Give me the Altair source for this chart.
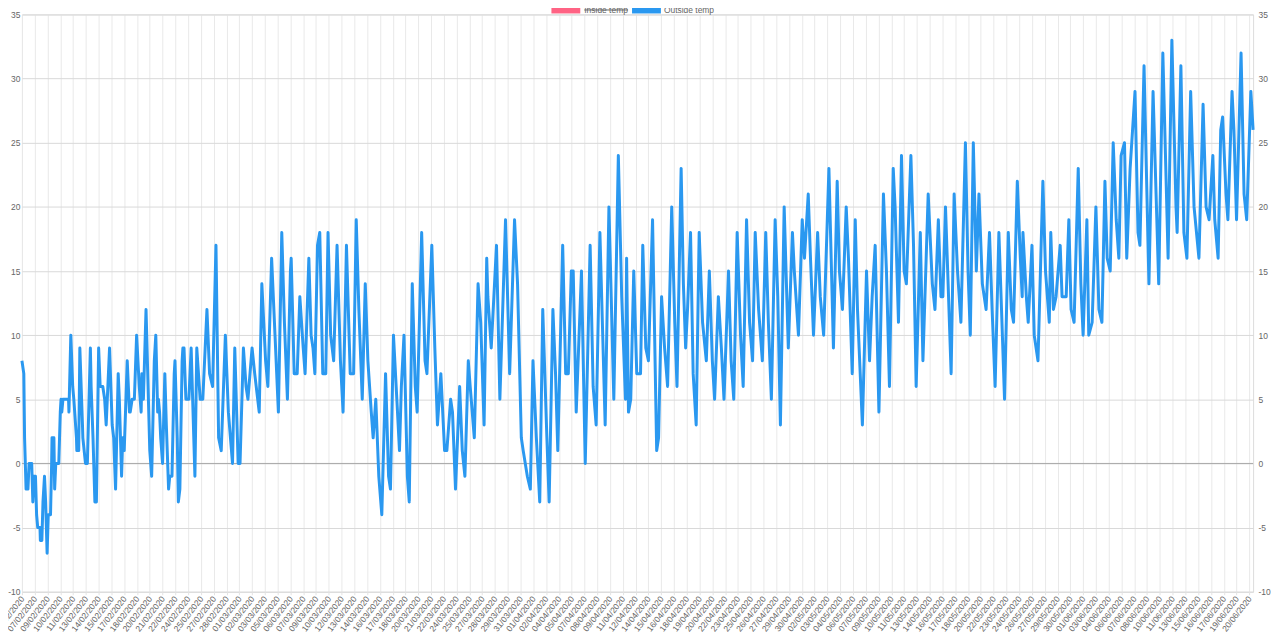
import altair as alt
import pandas as pd

# ---------------- data ----------------
date_labels = [
    "06/02/2020", "07/02/2020", "09/02/2020", "10/02/2020", "11/02/2020", "13/02/2020", "14/02/2020",
    "15/02/2020", "17/02/2020", "18/02/2020", "20/02/2020", "21/02/2020", "22/02/2020", "24/02/2020",
    "25/02/2020", "27/02/2020", "28/02/2020", "01/03/2020", "02/03/2020", "03/03/2020", "05/03/2020",
    "06/03/2020", "07/03/2020", "09/03/2020", "10/03/2020", "12/03/2020", "13/03/2020", "14/03/2020",
    "16/03/2020", "17/03/2020", "18/03/2020", "20/03/2020", "21/03/2020", "22/03/2020", "24/03/2020",
    "25/03/2020", "27/03/2020", "28/03/2020", "29/03/2020", "31/03/2020", "01/04/2020", "02/04/2020",
    "04/04/2020", "05/04/2020", "07/04/2020", "08/04/2020", "09/04/2020", "11/04/2020", "12/04/2020",
    "14/04/2020", "15/04/2020", "16/04/2020", "18/04/2020", "19/04/2020", "20/04/2020", "22/04/2020",
    "23/04/2020", "25/04/2020", "26/04/2020", "27/04/2020", "29/04/2020", "30/04/2020", "02/05/2020",
    "03/05/2020", "04/05/2020", "06/05/2020", "07/05/2020", "09/05/2020", "10/05/2020", "11/05/2020",
    "13/05/2020", "14/05/2020", "16/05/2020", "17/05/2020", "18/05/2020", "20/05/2020", "22/05/2020",
    "23/05/2020", "24/05/2020", "26/05/2020", "27/05/2020", "29/05/2020", "30/05/2020", "01/06/2020",
    "03/06/2020", "04/06/2020", "06/06/2020", "07/06/2020", "08/06/2020", "10/06/2020", "11/06/2020",
    "13/06/2020", "15/06/2020", "16/06/2020", "17/06/2020", "19/06/2020", "20/06/2020",
]

# reading index (one reading per hour) and outside temperature, Feb - early Mar
seg1_hours = [
    0, 5, 7, 9, 11, 16, 19, 26, 29, 32,
    36, 39, 42, 48, 49, 53, 56, 60, 63, 67,
    70, 76, 79, 80, 85, 87, 90, 98, 102, 104,
    106, 109, 124, 125, 130, 135, 138, 145, 146, 151,
    154, 161, 162, 169, 174, 182, 184, 189, 194, 198,
    204, 208, 215, 220, 224, 233, 240, 244, 249, 256,
    259, 265, 268, 272, 280, 286, 288, 293, 299, 305,
    312, 317, 319, 323, 330, 340, 345, 352, 356, 361,
    363, 366, 369, 374, 380, 384, 390, 393, 399, 405,
    407, 413, 416, 420, 426, 428, 431, 436, 444, 450,
]
seg1_temps = [
    8, 7, 2, 0, -2, -2, 0, 0, -3, -1,
    -1, -4, -5, -5, -6, -6, -3, -1, -3, -7,
    -4, -4, 0, 2, 2, -2, 0, 0, 4, 5,
    4, 5, 5, 4, 10, 6, 5, 2, 1, 1,
    9, 3, 2, 0, 0, 9, 6, 2, -3, -3,
    9, 6, 6, 5, 3, 9, 3, 2, -2, 7,
    5, -1, 2, 1, 8, 4, 4, 5, 5, 10,
    6, 4, 7, 5, 12, 1, -1, 8, 10, 4,
    5, 4, 2, 0, 7, 3, -2, -1, -1, 7,
    8, 2, -3, -2, 8, 9, 9, 5, 5, 9,
]

# early Mar - mid Apr
seg2_hours = [
    460, 465, 474, 481, 492, 499, 507, 516, 523, 530,
    541, 549, 560, 566, 575, 580, 589, 596, 601, 612,
    619, 631, 638, 643, 648, 654, 664, 673, 682, 691,
    698, 706, 714, 716, 724, 732, 739, 748, 753, 763,
    769, 774, 779, 786, 792, 800, 808, 814, 821, 829,
    838, 847, 854, 863, 873, 882, 889, 896, 905, 913,
    920, 929, 934, 941, 949, 957, 967, 975, 980, 988,
    997, 1004, 1009, 1016, 1025, 1030, 1038, 1046, 1051, 1063,
    1072, 1077, 1090, 1098, 1105, 1114, 1124, 1130, 1140, 1145,
    1153, 1164, 1171, 1178, 1187, 1192, 1203, 1213, 1220, 1229,
    1236, 1239, 1248, 1262, 1271, 1286, 1297, 1310, 1318, 1328,
    1333, 1344, 1352, 1359, 1368, 1377, 1385, 1396, 1402, 1412,
    1419, 1425, 1438, 1446, 1453, 1461, 1466, 1474, 1488, 1498,
    1511, 1519, 1527, 1537, 1551, 1561, 1574, 1586, 1595, 1605,
]
seg2_temps = [
    -1, 9, 5, 5, 12, 7, 6, 17, 2, 1,
    10, 4, 0, 9, 0, 0, 9, 6, 5, 9,
    7, 4, 14, 11, 8, 6, 16, 10, 4, 18,
    11, 5, 15, 16, 7, 7, 13, 9, 7, 16,
    10, 9, 7, 17, 18, 7, 7, 18, 10, 8,
    17, 8, 4, 17, 7, 7, 19, 12, 5, 14,
    8, 4, 2, 5, -1, -4, 7, -1, -2, 10,
    5, 1, 6, 10, -1, -3, 14, 6, 4, 18,
    8, 7, 17, 9, 3, 7, 1, 1, 5, 4,
    -2, 6, 1, -1, 8, 6, 2, 14, 11, 3,
    16, 13, 9, 17, 5, 19, 7, 19, 14, 2,
    1, -1, -2, 8, 2, -3, 12, 2, -3, 12,
    7, 1, 17, 7, 7, 15, 15, 4, 15, 0,
    17, 6, 3, 18, 3, 20, 5, 24, 13, 5,
]

# mid Apr - end of Jun
seg3_hours = [
    1608, 1613, 1619, 1627, 1635, 1645, 1651, 1659, 1666, 1677,
    1688, 1693, 1701, 1709, 1717, 1728, 1736, 1742, 1753, 1759,
    1765, 1770, 1778, 1785, 1793, 1801, 1810, 1820, 1828, 1836,
    1842, 1852, 1860, 1867, 1879, 1886, 1893, 1902, 1911, 1918,
    1927, 1935, 1943, 1950, 1959, 1969, 1978, 1985, 1993, 2003,
    2010, 2017, 2027, 2033, 2038, 2049, 2054, 2065, 2075, 2081,
    2091, 2097, 2105, 2116, 2123, 2132, 2146, 2152, 2158, 2168,
    2174, 2182, 2192, 2198, 2208, 2216, 2222, 2235, 2246, 2254,
    2261, 2269, 2279, 2291, 2299, 2307, 2317, 2322, 2331, 2339,
    2346, 2352, 2364, 2371, 2378, 2389, 2396, 2410, 2421, 2428,
    2437, 2444, 2449, 2456, 2463, 2471, 2479, 2488, 2497, 2509,
    2516, 2522, 2530, 2538, 2545, 2554, 2564, 2573, 2580, 2588,
    2598, 2605, 2613, 2623, 2631, 2637, 2647, 2655, 2660, 2662,
    2671, 2676, 2686, 2692, 2702, 2715, 2722, 2732, 2736, 2743,
    2750, 2761, 2766, 2777, 2784, 2790, 2798, 2809, 2816, 2822,
    2832, 2837, 2846, 2856, 2864, 2872, 2880, 2886, 2894, 2902,
    2910, 2917, 2923, 2932, 2938, 2947, 2960, 2968, 2973, 2984,
    2997, 3008, 3016, 3023, 3034, 3048, 3058, 3069, 3072, 3082,
    3090, 3098, 3108, 3117, 3130, 3141, 3149, 3157, 3167, 3172,
    3181, 3188, 3193, 3202, 3207, 3218, 3223, 3230, 3242, 3250,
    3257, 3268, 3274,
]
seg3_temps = [
    16, 4, 5, 15, 7, 7, 17, 9, 8, 19,
    1, 2, 13, 9, 6, 20, 11, 6, 23, 14,
    9, 12, 18, 7, 3, 18, 11, 8, 15, 8,
    5, 13, 9, 5, 15, 8, 5, 18, 10, 6,
    19, 11, 8, 18, 12, 8, 18, 11, 5, 19,
    13, 3, 20, 14, 9, 18, 15, 10, 19, 16,
    21, 16, 10, 18, 13, 10, 23, 16, 9, 22,
    15, 12, 20, 16, 7, 19, 12, 3, 15, 8,
    13, 17, 4, 21, 15, 6, 23, 20, 11, 24,
    15, 14, 24, 17, 6, 18, 8, 21, 14, 12,
    19, 13, 13, 20, 14, 7, 21, 15, 11, 25,
    15, 10, 25, 15, 21, 14, 12, 18, 12, 6,
    18, 12, 5, 18, 12, 11, 22, 16, 13, 18,
    13, 11, 17, 10, 8, 22, 15, 11, 18, 12,
    13, 17, 13, 13, 19, 12, 11, 23, 14, 10,
    19, 10, 11, 20, 12, 11, 22, 16, 15, 25,
    19, 16, 24, 25, 16, 23, 29, 18, 17, 31,
    14, 29, 21, 14, 32, 16, 33, 20, 18, 31,
    18, 16, 29, 20, 16, 28, 20, 19, 24, 19,
    16, 26, 27, 21, 19, 29, 26, 19, 32, 21,
    19, 29, 26,
]

y_ticks = [-10, -5, 0, 5, 10, 15, 20, 25, 30, 35]
legend_labels = ["Inside temp", "Outside temp"]
legend_colors = ["#ff6384", "#2a98f0"]
readings_per_label = 34
x_max = 3274

hours = seg1_hours + seg2_hours + seg3_hours
temps = seg1_temps + seg2_temps + seg3_temps
assert len(hours) == len(temps)

df = pd.DataFrame({"reading": hours, "temp": temps})
legend_df = pd.DataFrame({"name": legend_labels, "color": legend_colors})
zero_df = pd.DataFrame({"v": [0]})

tick_values = [i * readings_per_label for i in range(len(date_labels))]
label_expr = "[" + ",".join("'%s'" % d for d in date_labels) + "][round(datum.value / %d)]" % readings_per_label

FONT = "Liberation Sans"
LABEL = "#666666"

x_scale = alt.Scale(domain=[0, x_max], nice=False, zero=False)
y_scale = alt.Scale(domain=[-10, 35], nice=False, zero=False)

x_enc = alt.X(
    "reading:Q", scale=x_scale,
    axis=alt.Axis(
        values=tick_values, labelExpr=label_expr, labelAngle=-52, labelAlign="right",
        labelBaseline="middle", labelFontSize=8.5, labelColor=LABEL, labelFont=FONT,
        labelOverlap=False, labelFlush=False, labelBound=False, labelPadding=2,
        grid=True, gridColor="#e9e9e9", gridWidth=1, domain=False,
        ticks=True, tickColor="#e3e3e3", tickSize=3, title=None,
    ),
)

y_label_expr = "'' + datum.value"

line = alt.Chart(df).mark_line(color=legend_colors[1], strokeWidth=3, strokeJoin="round").encode(
    x=x_enc,
    y=alt.Y("temp:Q", scale=y_scale, axis=alt.Axis(
        values=y_ticks, orient="left", grid=True, gridColor="#d9d9d9", domain=False,
        ticks=False, labelPadding=2, labelFontSize=8.5, labelExpr=y_label_expr,
        labelColor=LABEL, labelFont=FONT, title=None)),
)

right_axis = alt.Chart(zero_df).mark_rule(opacity=0).encode(
    y=alt.Y("v:Q", scale=y_scale, axis=alt.Axis(
        values=y_ticks, orient="right", grid=False, domain=False, ticks=False,
        labelPadding=5, labelFontSize=8.5, labelExpr=y_label_expr,
        labelColor=LABEL, labelFont=FONT, title=None)),
)

zero_line = alt.Chart(zero_df).mark_rule(color="#a8a8a8", strokeWidth=1).encode(
    y=alt.Y("v:Q", scale=y_scale, axis=None)
)

inside = legend_df.iloc[[0]]
outside = legend_df.iloc[[1]]

leg_box_in = alt.Chart(inside).mark_rect(color=legend_colors[0]).encode(
    x=alt.value(532), x2=alt.value(561), y=alt.value(-9), y2=alt.value(-1))
leg_box_out = alt.Chart(outside).mark_rect(color=legend_colors[1]).encode(
    x=alt.value(613), x2=alt.value(642), y=alt.value(-9), y2=alt.value(-1))
leg_txt_in = alt.Chart(inside).mark_text(
    align="left", baseline="alphabetic", fontSize=8.5, font=FONT, color=LABEL).encode(
    x=alt.value(565), y=alt.value(-1.5), text="name:N")
leg_txt_out = alt.Chart(outside).mark_text(
    align="left", baseline="alphabetic", fontSize=8.5, font=FONT, color=LABEL).encode(
    x=alt.value(645), y=alt.value(-1.5), text="name:N")
leg_strike = alt.Chart(inside).mark_rule(color=LABEL, strokeWidth=1).encode(
    x=alt.value(565), x2=alt.value(609), y=alt.value(-4.5))

chart = alt.layer(
    zero_line, line, right_axis,
    leg_box_in, leg_box_out, leg_txt_in, leg_txt_out, leg_strike,
).resolve_scale(y="shared").resolve_axis(y="independent").properties(
    width=1237, height=580,
    autosize=alt.AutoSizeParams(type="none"),
    padding={"left": 14, "top": 5, "right": 19, "bottom": 44},
).configure_view(stroke="#d9d9d9", strokeWidth=1).configure(background="white")

chart.save("out.html", embed_options={"renderer": "svg", "actions": False})
